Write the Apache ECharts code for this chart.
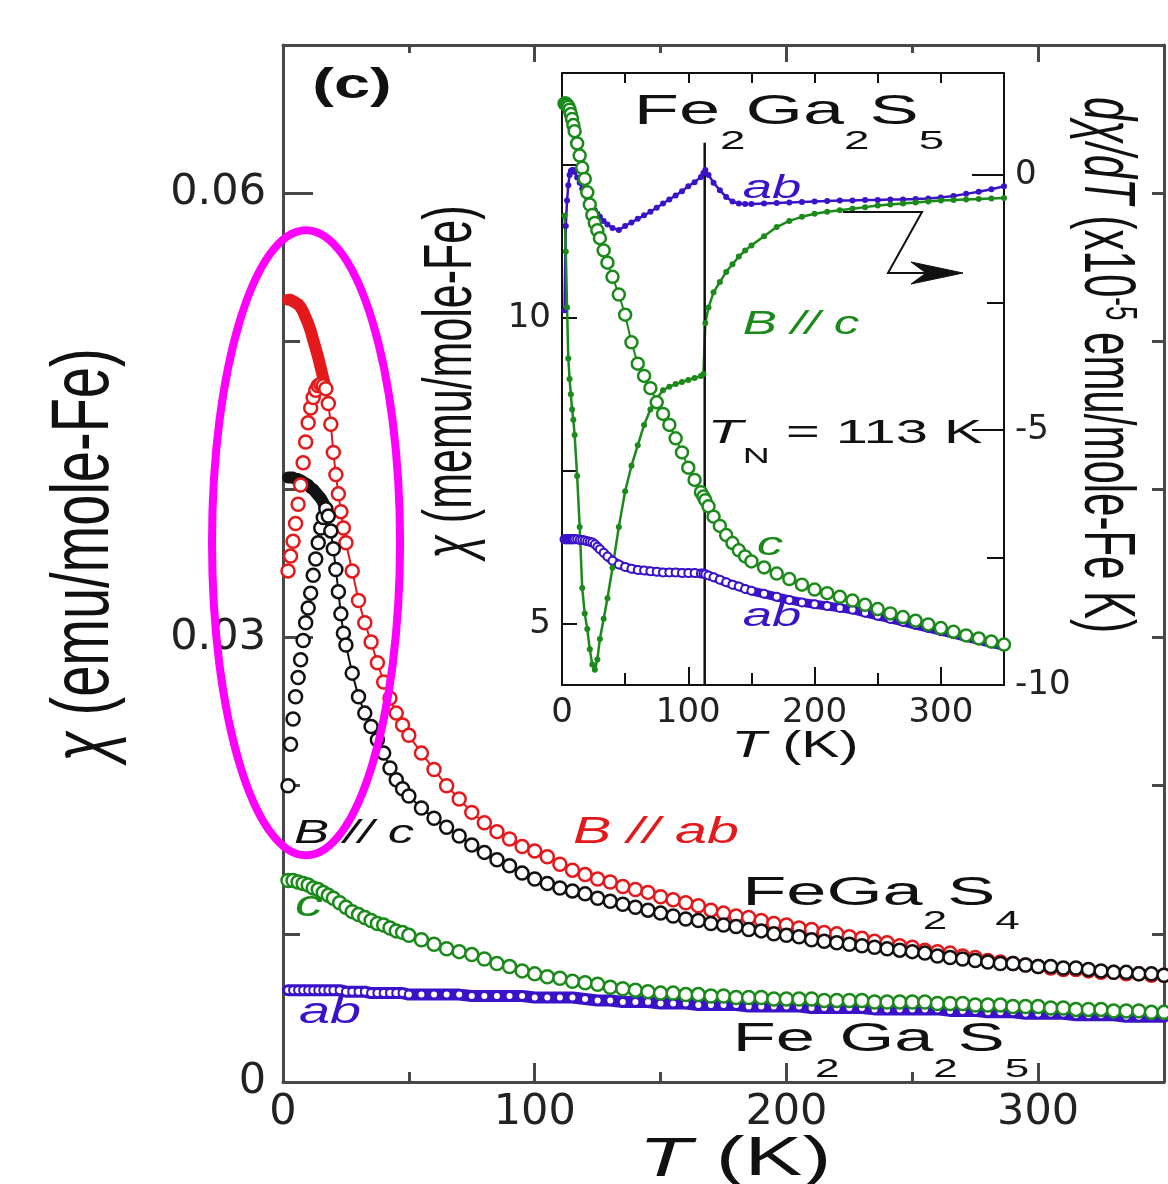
<!DOCTYPE html>
<html><head><meta charset="utf-8">
<script src="https://cdn.jsdelivr.net/npm/echarts@6.0.0/dist/echarts.min.js"></script>
<style>html,body{margin:0;padding:0;background:#fff}#c{width:1168px;height:1184px}</style>
</head><body><div id="c"></div>
<script>
// ---------- DATA ----------
// Main panel: FeGa2S4, low-temperature branches (T in K, chi in emu/mole-Fe)
const T_LOW = [2,3,4,5,6,7,8,9,10,11,12,13,14,15,16,17];
const RED_FC_LOW  = [0.0528,0.0528,0.0527,0.0526,0.0525,0.0523,0.0520,0.0516,0.0512,0.0507,0.0501,0.0495,0.0489,0.0482,0.0475,0.0468];
const RED_ZFC_LOW = [0.0345,0.0355,0.0365,0.0377,0.0390,0.0403,0.0418,0.0432,0.0445,0.0455,0.0462,0.0467,0.0470,0.0471,0.0470,0.0468];
const BLACK_FC_LOW  = [0.0408,0.0408,0.0408,0.0407,0.0407,0.0406,0.0405,0.0404,0.0403,0.0401,0.0400,0.0398,0.0396,0.0394,0.0391,0.0387];
const BLACK_ZFC_LOW = [0.0200,0.0228,0.0245,0.0260,0.0273,0.0285,0.0298,0.0310,0.0320,0.0330,0.0342,0.0353,0.0364,0.0374,0.0381,0.0387];

// Main panel: FeGa2S4 above the freezing point
const T_HIGH = [18,19,20,21,22,23,24,25,27.5,30,32.5,35,37.5,40,42.5,45,47.5,
  50,55,60,65,70,75,80,85,90,95,100,105,110,115,120,125,130,135,140,145,
  150,155,160,165,170,175,180,185,190,195,200,205,210,215,220,225,230,235,240,245,
  250,255,260,265,270,275,280,285,290,295,300,305,310,315,320,325,330,335,340,345,350];
const RED_HIGH = [0.0458,0.0444,0.0425,0.0410,0.0397,0.0385,0.0374,0.0364,
  0.0345,0.0325,0.0310,0.0297,0.0283,0.0270,0.0259,0.0249,0.0241,
  0.0234,0.0222,0.0211,0.0200,0.0191,0.0182,0.0175,0.0169,0.0164,0.0159,
  0.0156,0.0152,0.0147,0.0143,0.0140,0.0137,0.0135,0.0132,0.0130,0.0128,
  0.0125,0.0123,0.0121,0.0119,0.0116,0.0114,0.0112,0.0111,0.0109,0.0107,
  0.0106,0.0104,0.0103,0.0101,0.0100,0.0098,0.0097,0.0095,0.0094,0.0092,
  0.0091,0.0089,0.0088,0.0087,0.0085,0.0084,0.0082,0.0081,0.0080,0.0079,
  0.0078,0.0077,0.0076,0.0076,0.0075,0.0074,0.0074,0.0073,0.0073,0.0072,0.0072];
const BLACK_HIGH = [0.0382,0.0372,0.0360,0.0346,0.0331,0.0316,0.0303,0.0295,
  0.0276,0.0260,0.0249,0.0240,0.0231,0.0222,0.0212,0.0204,0.0198,
  0.0193,0.0185,0.0178,0.0172,0.0166,0.0160,0.0155,0.0150,0.0146,0.0141,
  0.0137,0.0134,0.0131,0.0129,0.0127,0.0124,0.0122,0.0120,0.0118,0.0116,
  0.0114,0.0112,0.0110,0.0109,0.0107,0.0106,0.0105,0.0103,0.0102,0.0100,
  0.0099,0.0098,0.0096,0.0095,0.0094,0.0093,0.0092,0.0091,0.0090,0.0089,
  0.0088,0.0087,0.0085,0.0084,0.0083,0.0082,0.0081,0.0080,0.0080,0.0079,
  0.0078,0.0078,0.0077,0.0077,0.0076,0.0075,0.0074,0.0074,0.0073,0.0073,0.0072];

// Main panel: Fe2Ga2S5
const T_FE2 = [2,4,6,8,10,12,14,16,18,20,22.5,25,27.5,30,32.5,35,37.5,40,42.5,45,47.5,
  50,55,60,65,70,75,80,85,90,95,100,105,110,115,120,125,130,135,140,145,
  150,155,160,165,170,175,180,185,190,195,200,205,210,215,220,225,230,235,240,245,
  250,255,260,265,270,275,280,285,290,295,300,305,310,315,320,325,330,335,340,345,350];
const GREEN_MAIN = [0.0136,0.0136,0.0135,0.0134,0.0133,0.0131,0.0130,0.0128,0.0126,0.0124,
  0.0121,0.0118,0.0115,0.0113,0.0111,0.0109,0.0107,0.0106,0.0104,0.0102,0.0101,
  0.0099,0.0096,0.0093,0.0090,0.0088,0.0086,0.0083,0.0080,0.0078,0.0075,
  0.0073,0.0071,0.0070,0.0068,0.0067,0.0066,0.0064,0.0063,0.0062,0.0061,
  0.0060,0.0060,0.0059,0.0059,0.0058,0.0058,0.0057,0.0057,0.0057,0.0056,
  0.0056,0.0056,0.0056,0.0055,0.0055,0.0055,0.0055,0.0054,0.0054,0.0054,
  0.0054,0.0054,0.0053,0.0053,0.0053,0.0052,0.0052,0.0052,0.0051,0.0051,
  0.0051,0.0050,0.0050,0.0049,0.0049,0.0049,0.0048,0.0048,0.0048,0.0047,0.0047];
const BLUE_MAIN = [0.0062,0.0062,0.0062,0.0062,0.0062,0.0062,0.0062,0.0062,0.0062,0.0062,
  0.0062,0.0061,0.0061,0.0061,0.0061,0.0060,0.0060,0.0060,0.0060,0.0060,0.0060,
  0.0059,0.0059,0.0059,0.0059,0.0059,0.0058,0.0058,0.0058,0.0058,0.0058,
  0.0057,0.0057,0.0057,0.0057,0.0056,0.0055,0.0055,0.0054,0.0054,0.0054,
  0.0053,0.0053,0.0053,0.0052,0.0052,0.0052,0.0052,0.0051,0.0051,0.0051,
  0.0051,0.0051,0.0050,0.0050,0.0050,0.0050,0.0050,0.0049,0.0049,0.0049,
  0.0049,0.0049,0.0049,0.0048,0.0048,0.0048,0.0047,0.0047,0.0047,0.0046,
  0.0046,0.0046,0.0046,0.0045,0.0045,0.0045,0.0045,0.0044,0.0044,0.0044,0.0044];

// Inset: Fe2Ga2S5 (chi in memu/mole-Fe, dchi/dT in 1e-5 emu/mole-Fe K)
const T_INSET = [2,3,4,5,6,7,8,9,10,12,14,16,18,20,22,24,26,28,30,33,36,
  40,45,50,55,60,65,70,75,80,85,90,95,100,105,110,112,113.5,116,
  120,125,130,135,140,145,150,160,170,180,190,200,210,220,230,240,250,260,270,280,290,300,310,320,330,340,350];
const CHI_C_INSET = [13.5,13.5,13.48,13.45,13.4,13.33,13.25,13.15,13.05,
  12.85,12.65,12.45,12.27,12.05,11.85,11.68,11.55,11.43,11.3,11.1,10.9,
  10.67,10.38,10.05,9.6,9.25,9.05,8.85,8.62,8.43,8.25,8.03,7.8,7.55,7.35,7.15,7.08,7.02,6.92,
  6.75,6.6,6.45,6.32,6.2,6.1,6.02,
  5.92,5.82,5.73,5.64,5.56,5.5,5.44,5.38,5.31,5.24,5.17,5.11,5.05,4.99,4.93,4.87,4.81,4.76,4.71,4.66];
const CHI_AB_INSET = [6.38,6.38,6.38,6.38,6.38,6.38,6.38,6.38,6.38,
  6.38,6.37,6.37,6.36,6.35,6.34,6.33,6.3,6.26,6.22,6.16,6.1,
  6.03,5.97,5.93,5.9,5.88,5.87,5.86,5.85,5.84,5.84,5.84,5.83,5.83,5.83,5.82,5.82,5.81,5.79,
  5.76,5.72,5.68,5.64,5.61,5.57,5.54,
  5.49,5.44,5.39,5.35,5.32,5.29,5.26,5.23,5.18,5.13,5.08,5.03,4.98,4.93,4.88,4.83,4.78,4.73,4.68,4.63];
const DCHI_C_INSET = [-0.8,-1.5,-2.6,-3.6,-4.0,-4.3,-4.6,-4.8,-5.1,
  -5.9,-6.9,-8.1,-8.6,-8.9,-9.3,-9.6,-9.7,-9.5,-9.1,-8.7,-8.3,
  -7.7,-6.9,-6.2,-5.7,-5.3,-4.9,-4.6,-4.38,-4.22,-4.15,-4.1,-4.06,-4.02,-3.98,-3.94,-3.9,-2.9,-2.6,
  -2.3,-2.1,-1.9,-1.75,-1.6,-1.48,-1.38,
  -1.2,-1.02,-0.9,-0.82,-0.76,-0.72,-0.69,-0.66,-0.63,-0.6,-0.58,-0.56,-0.54,-0.52,-0.5,-0.49,-0.48,-0.47,-0.46,-0.45];
const DCHI_AB_INSET = [-2.65,-1.0,-0.5,-0.2,0.0,0.08,0.1,0.1,0.06,
  -0.05,-0.15,-0.27,-0.37,-0.46,-0.54,-0.62,-0.69,-0.76,-0.82,-0.9,-0.97,
  -1.04,-1.08,-1.0,-0.93,-0.86,-0.79,-0.72,-0.64,-0.56,-0.48,-0.4,-0.32,-0.22,-0.14,-0.04,0.04,0.1,0.0,
  -0.15,-0.3,-0.43,-0.52,-0.56,-0.57,-0.57,
  -0.56,-0.55,-0.54,-0.53,-0.52,-0.51,-0.5,-0.5,-0.49,-0.49,-0.48,-0.48,-0.47,-0.46,-0.44,-0.41,-0.37,-0.33,-0.28,-0.22];
const T_NEEL = 113;
const T_NEEL_LINE_TOP = 0.63;   // right-axis units

// Tick values / labels
const MAIN_X_LABELS = [0,100,200,300];
const MAIN_X_MAJOR = [100,200,300];
const MAIN_X_MINOR = [50,150,250];
const MAIN_Y_LABELS = [0,0.03,0.06];
const MAIN_Y_MAJOR = [0.03,0.06];
const MAIN_Y_MINOR = [0.01,0.02,0.04,0.05];
const MAIN_Y_RIGHT = [0.01,0.02,0.03,0.04,0.05,0.06];
const INSET_X_LABELS = [0,100,200,300];
const INSET_X_TOP = [50,100,150,200,250,300];
const INSET_YL_TICKS = [5,7.5,10,12.5];
const INSET_YL_LABELS = [5,10];
const INSET_YR_MAJOR = [0,-5];
const INSET_YR_MINOR = [-2.5,-7.5];
const INSET_YR_LABELS = [0,-5,-10];
// Highlight ellipse bounds in data units of the main panel
const ELLIPSE = {t0:-28.2, t1:46.5, c0:0.0153, c1:0.0575};

// ---------- STYLE ----------
const RED='#e3191c', BLACK='#111111', GREEN='#1b8a1b', BLUE='#3a12c8', MAG='#ff00ff';
const AX='#484848', AXI='#111111';
const FONT="'Liberation Sans', Arial, Helvetica, sans-serif";
const NUMFONT="'DejaVu Sans', sans-serif";

const pairs = (xs, ys) => xs.map((x,i)=>[x, ys[i]]);

function ax(gridIndex, position, min, max, o) {
  return Object.assign({
    gridIndex, type:'value', position, min, max,
    axisLine:{show:false, onZero:false},
    axisTick:{show:false},
    axisLabel:{show:false},
    splitLine:{show:false}, minorTick:{show:false}, minorSplitLine:{show:false}
  }, o);
}
function line(color, w){ return {show:true, onZero:false, lineStyle:{color, width:w}}; }
function ticks(vals, len, color, w){ return {show:true, inside:true, length:len, customValues:vals, lineStyle:{color, width:w}}; }
function labels(vals, size, margin, fmt){ const l={show:true, customValues:vals, fontSize:size, fontFamily:NUMFONT, color:'#222', margin}; if(fmt) l.formatter=fmt; return l; }

function openSeries(data, color, size, xi, yi, lw, bw){
  return {type:'line', data, xAxisIndex:xi, yAxisIndex:yi, symbol:'circle', symbolSize:size, showSymbol:true,
    itemStyle:{color:'#ffffff', borderColor:color, borderWidth:bw||2.5},
    lineStyle:{color, width:lw}, silent:true, animation:false, clip:false};
}
function bandSeries(data, color, w, xi, yi){
  return {type:'line', data, xAxisIndex:xi, yAxisIndex:yi, symbol:'none', showSymbol:false,
    lineStyle:{color, width:w, cap:'round', join:'round'}, silent:true, animation:false, clip:false};
}
function dotSeries(data, color, xi, yi){
  return {type:'line', data, xAxisIndex:xi, yAxisIndex:yi, symbol:'circle', symbolSize:6, showSymbol:true,
    itemStyle:{color}, lineStyle:{color, width:2.5}, silent:true, animation:false, clip:false};
}

const option = {
  animation:false,
  backgroundColor:'#ffffff',
  grid:[
    {left:283, top:45, width:881, height:1037, show:false, containLabel:false, outerBoundsMode:'none'},
    {left:562, top:73, width:442, height:612, show:false, containLabel:false, outerBoundsMode:'none'}
  ],
  xAxis:[
    ax(0,'bottom',0,350,{axisLine:line(AX,3), axisTick:ticks(MAIN_X_MAJOR,19,AX,3), axisLabel:labels(MAIN_X_LABELS,43,9)}),
    ax(0,'bottom',0,350,{axisTick:ticks(MAIN_X_MINOR,10,AX,3)}),
    ax(0,'top',0,350,{axisLine:line(AX,3), axisTick:ticks(MAIN_X_MAJOR,17,AX,3)}),
    ax(0,'top',0,350,{axisTick:ticks(MAIN_X_MINOR,8,AX,3)}),
    ax(1,'bottom',0,350,{axisLine:line(AXI,2), axisTick:ticks([100,200,300],18,AXI,2), axisLabel:labels(INSET_X_LABELS,34,11)}),
    ax(1,'bottom',0,350,{axisTick:ticks(MAIN_X_MINOR,12,AXI,2)}),
    ax(1,'top',0,350,{axisLine:line(AXI,2), axisTick:ticks(INSET_X_TOP,10,AXI,2)})
  ],
  yAxis:[
    ax(0,'left',0,0.07,{axisLine:line(AX,3), axisTick:ticks(MAIN_Y_MAJOR,30,AX,3),
       axisLabel:labels(MAIN_Y_LABELS,43,17,v=>v===0?'0':v.toFixed(2))}),
    ax(0,'left',0,0.07,{axisTick:ticks(MAIN_Y_MINOR,17,AX,3)}),
    ax(0,'right',0,0.07,{axisLine:line(AX,3), axisTick:ticks(MAIN_Y_RIGHT,12,AX,3)}),
    ax(1,'left',4,14,{axisLine:line(AXI,2), axisTick:ticks(INSET_YL_TICKS,15,AXI,2), axisLabel:labels(INSET_YL_LABELS,34,11)}),
    ax(1,'right',-10,2,{axisLine:line(AXI,2), axisTick:ticks(INSET_YR_MAJOR,32,AXI,2), axisLabel:labels(INSET_YR_LABELS,34,11)}),
    ax(1,'right',-10,2,{axisTick:ticks(INSET_YR_MINOR,17,AXI,2)})
  ],
  series:[
    // main panel
    bandSeries(pairs(T_FE2, BLUE_MAIN), BLUE, 12, 0, 0),
    openSeries(pairs(T_FE2, BLUE_MAIN), BLUE, 8, 0, 0, 0, 2),
    openSeries(pairs(T_FE2, GREEN_MAIN), GREEN, 13, 0, 0, 2),
    bandSeries(pairs(T_LOW, RED_FC_LOW), RED, 12, 0, 0),
    openSeries(pairs(T_LOW, RED_ZFC_LOW), RED, 13, 0, 0, 0),
    openSeries(pairs(T_HIGH, RED_HIGH), RED, 13, 0, 0, 2),
    bandSeries(pairs(T_LOW, BLACK_FC_LOW), BLACK, 12, 0, 0),
    openSeries(pairs(T_LOW, BLACK_ZFC_LOW), BLACK, 13, 0, 0, 0),
    openSeries(pairs(T_HIGH, BLACK_HIGH), BLACK, 13, 0, 0, 2),
    // inset
    dotSeries(pairs(T_INSET, DCHI_AB_INSET), BLUE, 4, 4),
    bandSeries(pairs(T_INSET, CHI_AB_INSET), BLUE, 9, 4, 3),
    openSeries(pairs(T_INSET, CHI_AB_INSET), BLUE, 8, 4, 3, 0, 2),
    dotSeries(pairs(T_INSET, DCHI_C_INSET), GREEN, 4, 4),
    openSeries(pairs(T_INSET, CHI_C_INSET), GREEN, 12, 4, 3, 2),
    {type:'line', data:[[T_NEEL,-10],[T_NEEL,T_NEEL_LINE_TOP]], xAxisIndex:4, yAxisIndex:4, symbol:'none',
     lineStyle:{color:'#111', width:2.5}, silent:true, animation:false}
  ]
};

const chart = echarts.init(document.getElementById('c'));
chart.setOption(option);

// ---------- TEXT & ANNOTATIONS ----------
const SX = 1.55;
function txt(x, y, text, o) {
  o = o || {};
  return {type:'text', x, y, z:100, silent:true, scaleX:o.sx||SX, scaleY:o.sy||1, rotation:o.rot||0,
    style:{text, fontSize:o.size||36, fontFamily:FONT, fontStyle:o.italic?'italic':'normal',
      fontWeight:o.bold?'bold':'normal', fill:o.color||'#111', align:'center', verticalAlign:'middle', rich:o.rich}};
}
// chemical formula with subscripts; capsY = vertical centre of the capital letters
function formula(x, capsY, parts, size, sub, drop, color) {
  const P = Math.round(drop + size/2 - sub/2);
  const L = Math.max(size, P + sub);
  const y = capsY - 8 + (L - size)/2;
  let s = '';
  parts.forEach(p => { s += p[1] ? '{s|'+p[0]+'}' : '{m|'+p[0]+'}'; });
  return txt(x, y, s, {sx:1.76, rich:{
    m:{fontSize:size, lineHeight:size, verticalAlign:'top', fontFamily:FONT, fill:color},
    s:{fontSize:sub, lineHeight:sub, verticalAlign:'top', padding:[P,0,0,0], fontFamily:FONT, fill:color}
  }});
}
const FE2GA2S5 = [['Fe'],['2',1],['Ga'],['2',1],['S'],['5',1]];
const FEGA2S4 = [['FeGa'],['2',1],['S'],['4',1]];

const p0 = chart.convertToPixel({gridIndex:0}, [ELLIPSE.t0, ELLIPSE.c1]);
const p1 = chart.convertToPixel({gridIndex:0}, [ELLIPSE.t1, ELLIPSE.c0]);

const graphics = [
  txt(352, 86, '(c)', {size:42, bold:true}),
  txt(86, 555, '{c|χ} (emu/mole-Fe)', {size:56, rot:Math.PI/2, sx:1, sy:1.45,
      rich:{c:{fontStyle:'italic', fontSize:56, fontFamily:FONT, fill:'#111'}}}),
  txt(735, 1160, '{i|T} (K)', {size:56, rich:{i:{fontStyle:'italic', fontSize:56, fontFamily:FONT, fill:'#111'}}}),
  txt(354, 834, 'B // c', {size:34, italic:true, color:BLACK}),
  txt(656, 833, 'B // ab', {size:37, italic:true, color:RED}),
  formula(881, 892, FEGA2S4, 41, 25, 28, '#111'),
  formula(881, 1036, FE2GA2S5, 40, 25, 30, '#111'),
  txt(309, 906, 'c', {size:36, italic:true, color:GREEN}),
  txt(330, 1013, 'ab', {size:36, italic:true, color:BLUE}),
  // inset
  formula(789, 110, FE2GA2S5, 42, 26, 29, '#111'),
  txt(772, 189, 'ab', {size:34, italic:true, color:BLUE}),
  txt(801, 325, 'B // c', {size:33, italic:true, color:GREEN}),
  txt(845, 434, '{i|T}{s|N}{m| = 113 K}', {size:34, sx:1.7, rich:{
      i:{fontStyle:'italic', fontSize:34, lineHeight:34, verticalAlign:'top', fontFamily:FONT, fill:'#111'},
      s:{fontSize:22, lineHeight:22, verticalAlign:'top', padding:[29,0,0,0], fontFamily:FONT, fill:'#111'},
      m:{fontSize:34, lineHeight:34, verticalAlign:'top', fontFamily:FONT, fill:'#111'}}}),
  txt(770, 546, 'c', {size:34, italic:true, color:GREEN}),
  txt(772, 617, 'ab', {size:34, italic:true, color:BLUE}),
  txt(795, 747, '{i|T} (K)', {size:37, rich:{i:{fontStyle:'italic', fontSize:37, fontFamily:FONT, fill:'#111'}}}),
  txt(452, 382, '{c|χ} (memu/mole-Fe)', {size:43, rot:Math.PI/2, sx:1, sy:1.6,
      rich:{c:{fontStyle:'italic', fontSize:43, fontFamily:FONT, fill:'#111'}}}),
  txt(1105, 365, '{i|dχ/dT}{m| (x10}{p|-5}{m| emu/mole-Fe K)}', {size:42, rot:-Math.PI/2, sx:1, sy:1.7, rich:{
      i:{fontStyle:'italic', fontSize:42, lineHeight:42, verticalAlign:'top', fontFamily:FONT, fill:'#111'},
      m:{fontSize:42, lineHeight:42, verticalAlign:'top', fontFamily:FONT, fill:'#111'},
      p:{fontSize:26, lineHeight:26, verticalAlign:'top', fontFamily:FONT, fill:'#111'}}}),
  // arrow pointing to the right-hand axis
  {type:'polyline', z:90, silent:true, shape:{points:[[843,212],[922,212],[888,273],[930,273]]},
   style:{stroke:'#111', lineWidth:2, fill:null}},
  {type:'polygon', z:90, silent:true, shape:{points:[[963,273],[911,262],[926,273],[911,284]]},
   style:{fill:'#111', stroke:'#111', lineWidth:1}},
  // magenta highlight ellipse
  {type:'ellipse', z:200, silent:true,
   shape:{cx:(p0[0]+p1[0])/2, cy:(p0[1]+p1[1])/2, rx:Math.abs(p1[0]-p0[0])/2, ry:Math.abs(p1[1]-p0[1])/2},
   style:{fill:null, stroke:MAG, lineWidth:8}}
];
chart.setOption({graphic: graphics});
</script></body></html>
